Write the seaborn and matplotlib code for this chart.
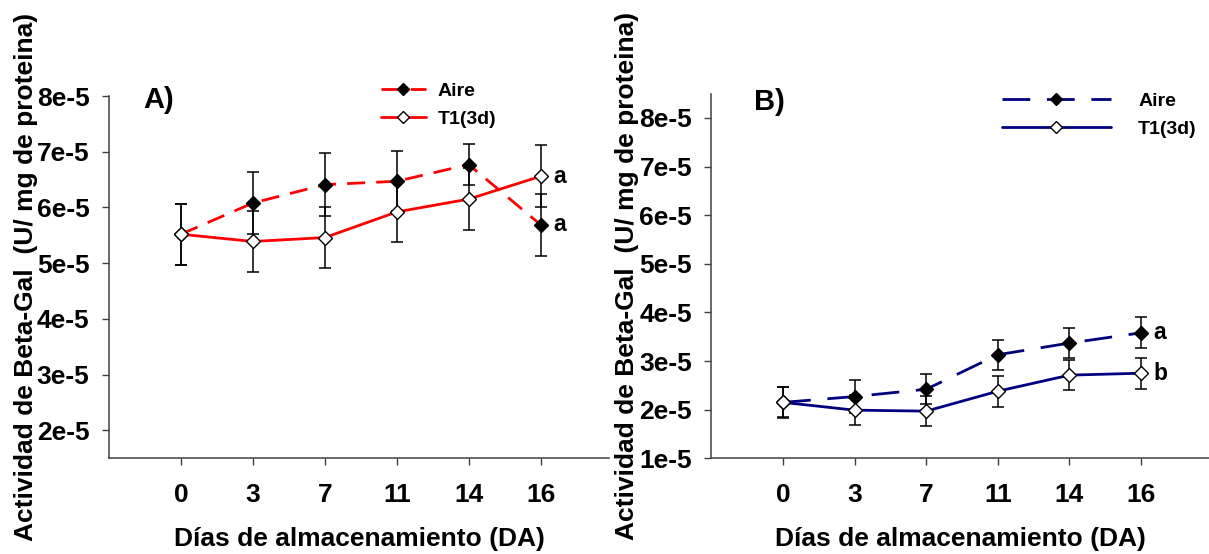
import numpy as np
import pandas as pd
import matplotlib
matplotlib.use("Agg")
import matplotlib.pyplot as plt
import seaborn as sns
from matplotlib.lines import Line2D

# ---------------- data ----------------
days = ["0", "3", "7", "11", "14", "16"]

a_aire = [5.52e-5, 6.08e-5, 6.41e-5, 6.47e-5, 6.77e-5, 5.69e-5]
a_aire_err = [0.55e-5, 0.56e-5, 0.56e-5, 0.54e-5, 0.37e-5, 0.56e-5]
a_t1 = [5.52e-5, 5.39e-5, 5.46e-5, 5.92e-5, 6.15e-5, 6.56e-5]
a_t1_err = [0.55e-5, 0.55e-5, 0.55e-5, 0.54e-5, 0.55e-5, 0.56e-5]

b_aire = [2.15e-5, 2.27e-5, 2.42e-5, 3.13e-5, 3.37e-5, 3.58e-5]
b_aire_err = [0.32e-5, 0.33e-5, 0.31e-5, 0.31e-5, 0.31e-5, 0.32e-5]
b_t1 = [2.15e-5, 1.99e-5, 1.97e-5, 2.38e-5, 2.71e-5, 2.75e-5]
b_t1_err = [0.31e-5, 0.31e-5, 0.31e-5, 0.32e-5, 0.31e-5, 0.32e-5]

a_letters = ["a", "a"]   # T1, Aire at day 16
b_letters = ["a", "b"]   # Aire, T1 at day 16

a_yticks = [2e-5, 3e-5, 4e-5, 5e-5, 6e-5, 7e-5, 8e-5]
b_yticks = [1e-5, 2e-5, 3e-5, 4e-5, 5e-5, 6e-5, 7e-5, 8e-5]
a_ytick_labels = ["2e-5", "3e-5", "4e-5", "5e-5", "6e-5", "7e-5", "8e-5"]
b_ytick_labels = ["1e-5", "2e-5", "3e-5", "4e-5", "5e-5", "6e-5", "7e-5", "8e-5"]

xlabel = "Días de almacenamiento (DA)"
ylabel = "Actividad de Beta-Gal  (U/ mg de proteina)"

# ---------------- style ----------------
sns.set_theme(style="white")
plt.rcParams["font.family"] = ["Liberation Sans", "DejaVu Sans"]
plt.rcParams["font.weight"] = "bold"
plt.rcParams["text.color"] = "black"
plt.rcParams["axes.labelcolor"] = "black"
plt.rcParams["xtick.color"] = "black"
plt.rcParams["ytick.color"] = "black"

W, H = 1209, 554
fig = plt.figure(figsize=(W / 100, H / 100), dpi=100)

def px_axes(x0, x1, ytop, ybot):
    return fig.add_axes([x0 / W, 1 - ybot / H, (x1 - x0) / W, (ybot - ytop) / H])

axA = px_axes(109, 609, 96, 458.3)
axB = px_axes(711.5, 1209, 93.6, 458.3)

spine_col = "#404040"
FS = 19

def draw_panel(ax, aire, aire_err, t1, t1_err, color, dash, ylim, yticks, ylabels):
    df_aire = pd.DataFrame({"dia": days, "val": aire})
    df_t1 = pd.DataFrame({"dia": days, "val": t1})
    ax.errorbar(days, aire, yerr=aire_err, fmt="none", ecolor="black",
                elinewidth=1.1, capsize=4, capthick=1.1, zorder=1)
    ax.errorbar(days, t1, yerr=t1_err, fmt="none", ecolor="black",
                elinewidth=1.1, capsize=4, capthick=1.1, zorder=1)
    sns.lineplot(data=df_aire, x="dia", y="val", ax=ax, color=color, lw=2,
                 marker="D", markersize=7, markerfacecolor="black",
                 markeredgecolor="black", markeredgewidth=1, sort=False, zorder=3)
    ax.lines[-1].set_linestyle((0, dash))
    sns.lineplot(data=df_t1, x="dia", y="val", ax=ax, color=color, lw=2,
                 marker="D", markersize=7, markerfacecolor="white",
                 markeredgecolor="black", markeredgewidth=1, sort=False, zorder=4)
    ax.set_xlim(-1, 5.95)
    ax.set_ylim(*ylim)
    ax.set_yticks(yticks)
    ax.set_yticklabels(ylabels)
    for s in ["top", "right"]:
        ax.spines[s].set_visible(False)
    for s in ["left", "bottom"]:
        ax.spines[s].set_color(spine_col)
        ax.spines[s].set_linewidth(1.1)
    ax.tick_params(axis="both", which="major", length=5, width=1, color=spine_col,
                   labelcolor="black", labelsize=FS, left=True, bottom=True)
    ax.tick_params(axis="x", pad=13)
    ax.tick_params(axis="y", pad=9)
    for t in ax.get_xticklabels() + ax.get_yticklabels():
        t.set_fontweight("bold")
    ax.set_xlabel(xlabel, fontsize=FS, fontweight="bold", labelpad=14, color="black")
    ax.set_ylabel(ylabel, fontsize=FS, fontweight="bold", color="black")
    ax.grid(False)
    ax.set_facecolor("white")

# ---- Panel A ----
draw_panel(axA, a_aire, a_aire_err, a_t1, a_t1_err, "#ff0000", (6.5, 4),
           (1.5e-5, 8e-5), a_yticks, a_ytick_labels)
axA.yaxis.set_label_coords(-0.142, 0.5)
axA.text(34 / 500, 0.99, "A)", transform=axA.transAxes, fontsize=21,
         fontweight="bold", va="center", ha="left", color="black")
axA.annotate(a_letters[0], xy=(5, a_t1[5]), xytext=(9, 0), textcoords="offset points",
             fontsize=16.5, fontweight="bold", va="center", ha="left", color="black")
axA.annotate(a_letters[1], xy=(5, a_aire[5]), xytext=(9, 0), textcoords="offset points",
             fontsize=16.5, fontweight="bold", va="center", ha="left", color="black")

hA = [Line2D([], [], color="#ff0000", lw=2, linestyle=(0, (6.5, 4)), marker="D",
             markersize=6, markerfacecolor="black", markeredgecolor="black"),
      Line2D([], [], color="#ff0000", lw=2, marker="D", markersize=6,
             markerfacecolor="white", markeredgecolor="black")]
legA = fig.legend(hA, ["Aire", "T1(3d)"], loc="upper left",
                  bbox_to_anchor=(381 / W, 1 - 82 / H), frameon=False,
                  handlelength=2.3, handletextpad=0.6, labelspacing=0.55, borderpad=0,
                  borderaxespad=0, prop={"weight": "bold", "size": 14})
for t in legA.get_texts():
    t.set_color("black")

# ---- Panel B ----
draw_panel(axB, b_aire, b_aire_err, b_t1, b_t1_err, "#000080", (10, 6),
           (1e-5, 8.5e-5), b_yticks, b_ytick_labels)
axB.yaxis.set_label_coords(-0.145, 0.5)
axB.text(43 / 497.5, 0.977, "B)", transform=axB.transAxes, fontsize=21,
         fontweight="bold", va="center", ha="left", color="black")
axB.annotate(b_letters[0], xy=(5, b_aire[5]), xytext=(9, 0), textcoords="offset points",
             fontsize=16.5, fontweight="bold", va="center", ha="left", color="black")
axB.annotate(b_letters[1], xy=(5, b_t1[5]), xytext=(9, 0), textcoords="offset points",
             fontsize=16.5, fontweight="bold", va="center", ha="left", color="black")

hB = [Line2D([], [], color="#000080", lw=2, linestyle=(0, (10, 6)), marker="D",
             markersize=6, markerfacecolor="black", markeredgecolor="black"),
      Line2D([], [], color="#000080", lw=2, marker="D", markersize=6,
             markerfacecolor="white", markeredgecolor="black")]
legB = fig.legend(hB, ["Aire", "T1(3d)"], loc="upper left",
                  bbox_to_anchor=(1002 / W, 1 - 92 / H), frameon=False,
                  handlelength=5.6, handletextpad=1.4, labelspacing=0.55, borderpad=0,
                  borderaxespad=0, prop={"weight": "bold", "size": 14})
for t in legB.get_texts():
    t.set_color("black")

fig.savefig("out.png", dpi=100, facecolor="white")
